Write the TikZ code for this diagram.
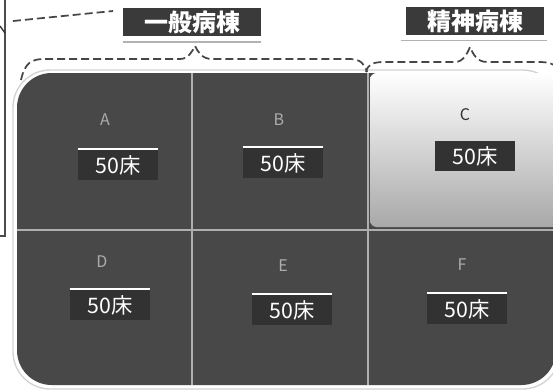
\documentclass[tikz,border=0pt]{standalone}
\usepackage{fontspec}
\setmainfont{Noto Sans CJK JP}
\usetikzlibrary{positioning,calc}
\definecolor{wardGray}{RGB}{72,72,72}
\definecolor{bedGray}{RGB}{50,50,50}
\definecolor{headGray}{RGB}{58,58,58}
\definecolor{gridGray}{RGB}{175,175,175}

\begin{document}
\begin{tikzpicture}[
        x=0.75pt,y=-0.75pt,
        head/.style={fill=headGray,text=white,font=\bfseries\fontsize{18}{18}\selectfont,inner sep=2pt,minimum width=103pt,minimum height=21pt},
        cellname/.style={text=gray!65,font=\fontsize{12}{12}\selectfont},
        bedbox/.style={fill=bedGray,text=white,font=\fontsize{16}{16}\selectfont,minimum width=60pt,minimum height=23pt,inner sep=1pt},
        bedline/.style={white,line width=1.6pt},
        brace/.style={dashed,line width=1.3pt,gray!55!black,dash pattern=on 6pt off 3pt},
        grid/.style={gridGray,line width=0.8pt}
      ]
        \useasboundingbox (0,0) rectangle (553,390);
        \clip (0,0) rectangle (553,390);
        % left cut-off frame
        \draw[gray!60!black,line width=0.8pt] (5,0) -- (5,236) -- (0,236);
        \draw[gray!40!black,line width=1pt] (0,26) -- (5,33);
        \draw[brace] (13,21) -- (113,11);
        % ward block
        \draw[gray!35,line width=1pt,rounded corners=28pt] (13,70) rectangle (560,389);
        \fill[wardGray,rounded corners=26pt] (17,73) rectangle (556,385);
        \shade[top color=white,middle color=gray!15,bottom color=gray!68,rounded corners=5pt]
          (370,73) rectangle (560,227);
        \draw[grid] (192,73) -- (192,385);
        \draw[grid] (368,73) -- (368,385);
        \draw[grid] (17,230) -- (556,230);
        % headers
        \node[head] (general) at (192,22) {一般病棟};
        \node[head] (psych) at (475,21) {精神病棟};
        \draw[gray!60,line width=1.2pt] (general.south west) ++(0,-4pt) -- ($(general.south east)+(0,-4pt)$);
        \draw[gray!60,line width=1.2pt] (psych.south west) ++(-4pt,-4pt) -- ($(psych.south east)+(2pt,-4pt)$);
        \coordinate (gtip) at (195,46);
        \coordinate (ptip) at (470,47);
        \draw[brace] (21,80) .. controls (25,62) and (32,59) .. (45,59) -- (180,59)
          .. controls (188,59) and (192,52) .. (gtip) .. controls (198,52) and (202,59) .. (212,59)
          -- (350,59) .. controls (360,59) and (365,64) .. (367,72);
        \draw[brace] (366,72) .. controls (368,64) and (373,62) .. (385,62) -- (455,62)
          .. controls (463,62) and (467,54) .. (ptip) .. controls (473,54) and (477,62) .. (487,62)
          -- (540,62) .. controls (552,62) and (558,66) .. (560,74);
        % cells
        \node[cellname] (na) at (105,120) {A};
        \node[cellname] (nb) at (279,120) {B};
        \node[cellname,text=black!80] (nc) at (465,115) {C};
        \node[cellname] (nd) at (102,262) {D};
        \node[cellname] (ne) at (283,266) {E};
        \node[cellname] (nf) at (462,265) {F};
        \node[bedbox] (ba) at (118,165) {50床};
        \node[bedbox] (bb) at (283,163) {50床};
        \node[bedbox] (bc) at (475,156) {50床};
        \node[bedbox] (bd) at (110,305) {50床};
        \node[bedbox] (be) at (292,310) {50床};
        \node[bedbox] (bf) at (467,309) {50床};
        \draw[bedline] (ba.north west) -- (ba.north east);
        \draw[bedline] (bb.north west) -- (bb.north east);
        \draw[bedline] (bd.north west) -- (bd.north east);
        \draw[bedline] (be.north west) -- (be.north east);
        \draw[bedline] (bf.north west) -- (bf.north east);
      \end{tikzpicture}
\end{document}
